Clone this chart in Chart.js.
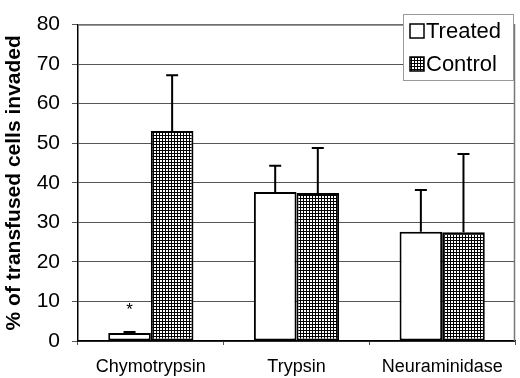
<!DOCTYPE html>
<html>
<head>
<meta charset="utf-8">
<script src="https://cdn.jsdelivr.net/npm/chart.js@4"></script>
<style>
  html, body { margin: 0; padding: 0; background: #fff; }
  #wrap { width: 520px; height: 378px; }
</style>
</head>
<body>
<div id="wrap"><canvas id="chart" width="520" height="378"></canvas></div>
<script>
// Invasion after enzyme treatment: treated vs control, mean with upward error bars.
const categories = ['Chymotrypsin', 'Trypsin', 'Neuraminidase'];
const seriesNames = ['Treated', 'Control'];
const treatedValues = [2.0, 37.7, 27.6];
const controlValues = [53.1, 37.4, 27.5];
const treatedErrors = [0.3, 6.6, 10.6];
const controlErrors = [14.1, 11.4, 19.8];
const yTicks = [0, 10, 20, 30, 40, 50, 60, 70, 80];
const markerText = '*';           // significance marker above Chymotrypsin / Treated
const markerValue = 8;

const canvas = document.getElementById('chart');
const ctx = canvas.getContext('2d');

// checkered fill used for the Control bars
function gridPattern() {
    const c = document.createElement('canvas');
    c.width = 3; c.height = 3;
    const g = c.getContext('2d');
    g.fillStyle = '#fff';
    g.fillRect(0, 0, 3, 3);
    g.fillStyle = '#000';
    g.fillRect(0, 0, 3, 1);
    g.fillRect(0, 0, 1, 3);
    return ctx.createPattern(c, 'repeat');
}
const hatch = gridPattern();

const errorBars = {
    id: 'errorBars',
    afterDatasetsDraw(chart) {
        const g = chart.ctx;
        const y = chart.scales.y;
        const errs = [treatedErrors, controlErrors];
        g.save();
        g.strokeStyle = '#000';
        g.lineWidth = 2;
        chart.data.datasets.forEach((ds, i) => {
            chart.getDatasetMeta(i).data.forEach((bar, j) => {
                const top = y.getPixelForValue(ds.data[j] + errs[i][j]);
                g.beginPath();
                g.moveTo(bar.x, bar.y);
                g.lineTo(bar.x, top);
                g.moveTo(bar.x - 6, top);
                g.lineTo(bar.x + 6, top);
                g.stroke();
            });
        });
        // asterisk
        const b = chart.getDatasetMeta(0).data[0];
        g.fillStyle = '#000';
        g.font = '17px Arial';
        g.textAlign = 'center';
        g.textBaseline = 'middle';
        g.fillText(markerText, b.x, y.getPixelForValue(markerValue) + 1);
        g.restore();
    }
};

const frameAndLegend = {
    id: 'frameAndLegend',
    afterDraw(chart) {
        const g = chart.ctx;
        const a = chart.chartArea;
        g.save();
        // grey top and right frame
        g.strokeStyle = '#777';
        g.lineWidth = 1.5;
        g.beginPath();
        g.moveTo(a.left, a.top + 0.5);
        g.lineTo(a.right - 0.5, a.top + 0.5);
        g.lineTo(a.right - 0.5, a.bottom);
        g.stroke();

        // legend box
        const bx = 403, by = 14, bw = 110, bh = 66;
        g.fillStyle = '#fff';
        g.fillRect(bx, by, bw, bh);
        g.strokeStyle = '#999';
        g.lineWidth = 1;
        g.strokeRect(bx + 0.5, by + 0.5, bw, bh);

        const fills = ['#fff', hatch];
        g.font = '22px Arial';
        g.textAlign = 'left';
        g.textBaseline = 'middle';
        seriesNames.forEach((name, i) => {
            const cy = 31 + i * 33;
            g.fillStyle = fills[i];
            g.fillRect(410, cy - 7, 14, 14);
            g.strokeStyle = '#000';
            g.lineWidth = 1.5;
            g.strokeRect(410, cy - 7, 14, 14);
            g.fillStyle = '#000';
            g.fillText(name, 426, cy + 1);
        });
        g.restore();
    }
};

new Chart(ctx, {
    type: 'bar',
    data: {
        labels: categories,
        datasets: [
            { label: seriesNames[0], data: treatedValues, backgroundColor: '#fff',
              borderColor: '#000', borderWidth: 2, borderSkipped: false },
            { label: seriesNames[1], data: controlValues, backgroundColor: hatch,
              borderColor: '#000', borderWidth: 2, borderSkipped: false }
        ]
    },
    options: {
        responsive: false,
        animation: false,
        layout: { padding: { top: 10, right: 5, left: 0, bottom: 0 } },
        categoryPercentage: 0.585,
        barPercentage: 1.0,
        plugins: { legend: { display: false }, tooltip: { enabled: false } },
        scales: {
            x: {
                afterFit: (s) => { s.height = 37; },
                grid: { offset: true, drawOnChartArea: false, tickLength: 4, color: '#555' },
                border: { color: '#000', width: 1.5 },
                ticks: { color: '#000', font: { family: 'Arial', size: 18 }, padding: 11 }
            },
            y: {
                min: 0,
                max: 80,
                afterFit: (s) => { s.width = 78; },
                afterBuildTicks: (s) => { s.ticks = yTicks.map(v => ({ value: v })); },
                grid: { color: '#555', lineWidth: 1, tickLength: 6 },
                border: { color: '#000', width: 1.5 },
                ticks: { color: '#000', font: { family: 'Arial', size: 21 }, padding: 12 },
                title: {
                    display: true,
                    text: '% of transfused cells invaded',
                    color: '#000',
                    font: { family: 'Arial', size: 21, weight: 'bold' },
                    padding: { top: 2, bottom: 0 }
                }
            }
        }
    },
    plugins: [errorBars, frameAndLegend]
});
</script>
</body>
</html>
